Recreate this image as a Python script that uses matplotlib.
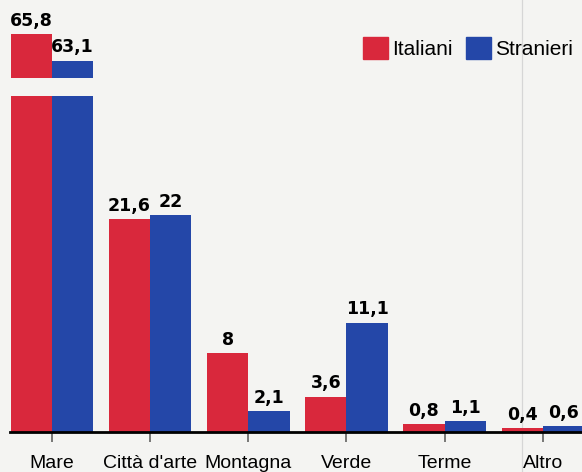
import numpy as np
import matplotlib.pyplot as plt
from matplotlib.lines import Line2D

# data
categories = ["Mare", "Città d'arte", "Montagna", "Verde", "Terme", "Altro"]
italiani = [65.8, 21.6, 8, 3.6, 0.8, 0.4]
stranieri = [63.1, 22, 2.1, 11.1, 1.1, 0.6]

RED = "#d9283c"
BLUE = "#2447a8"
BG = "#f4f4f2"

def fmt(v):
    return f"{v:g}".replace(".", ",")

W, H = 582, 472
fig = plt.figure(figsize=(W / 100, H / 100), dpi=100, facecolor=BG)

# faint fold line of the scanned page
fig.add_artist(Line2D([522 / W, 522 / W], [0, 1], color="#d6d6d6", lw=0.9, zorder=-1))

# broken axis: lower part 0..34, upper part around the Mare values
ax = fig.add_axes([0, (H - 432) / H, 1, (432 - 96) / H])
ax_top = fig.add_axes([0, (H - 78) / H, 1, 78 / H])

x = np.arange(len(categories))
bw = 0.42
px_per_unit = 9.86

for a in (ax, ax_top):
    a.patch.set_visible(False)
    a.bar(x - bw / 2, italiani, bw, color=RED, linewidth=0)
    a.bar(x + bw / 2, stranieri, bw, color=BLUE, linewidth=0)
    a.set_xlim(-0.53, 5.40)
    for s in a.spines.values():
        s.set_visible(False)
    a.set_yticks([])

ax.set_ylim(0, 336 / px_per_unit)
lo = 65.8 - 44 / px_per_unit
ax_top.set_ylim(lo, lo + 78 / px_per_unit)
ax_top.set_xticks([])

ax.set_xticks(x)
ax.set_xticklabels(categories, fontsize=14, family=["Liberation Sans", "DejaVu Sans"])
ax.tick_params(axis="x", length=7.5, width=1.1, color="#555555", pad=9)
ax.axhline(0, xmin=10 / W, xmax=1, color="black", lw=2, zorder=5, clip_on=False)

# value labels
for i in range(len(categories)):
    target = ax_top if i == 0 else ax
    for xv, v in ((x[i] - bw / 2, italiani[i]), (x[i] + bw / 2, stranieri[i])):
        target.annotate(fmt(v), (xv, v), xytext=(0, 3), textcoords="offset points",
                        ha="center", va="bottom", fontsize=12.5, fontweight="bold",
                        family="DejaVu Sans", color="black")

handles = [plt.Rectangle((0, 0), 1, 1, color=RED), plt.Rectangle((0, 0), 1, 1, color=BLUE)]
fig.legend(handles, ["Italiani", "Stranieri"], loc="center", bbox_to_anchor=(468 / W, 1 - 48 / H),
           ncol=2, frameon=False, prop={"family": ["Liberation Sans", "DejaVu Sans"], "size": 15},
           handlelength=1.2, handleheight=1.2, handletextpad=0.2, columnspacing=0.6)

fig.savefig("out.png", dpi=100, facecolor=BG)
